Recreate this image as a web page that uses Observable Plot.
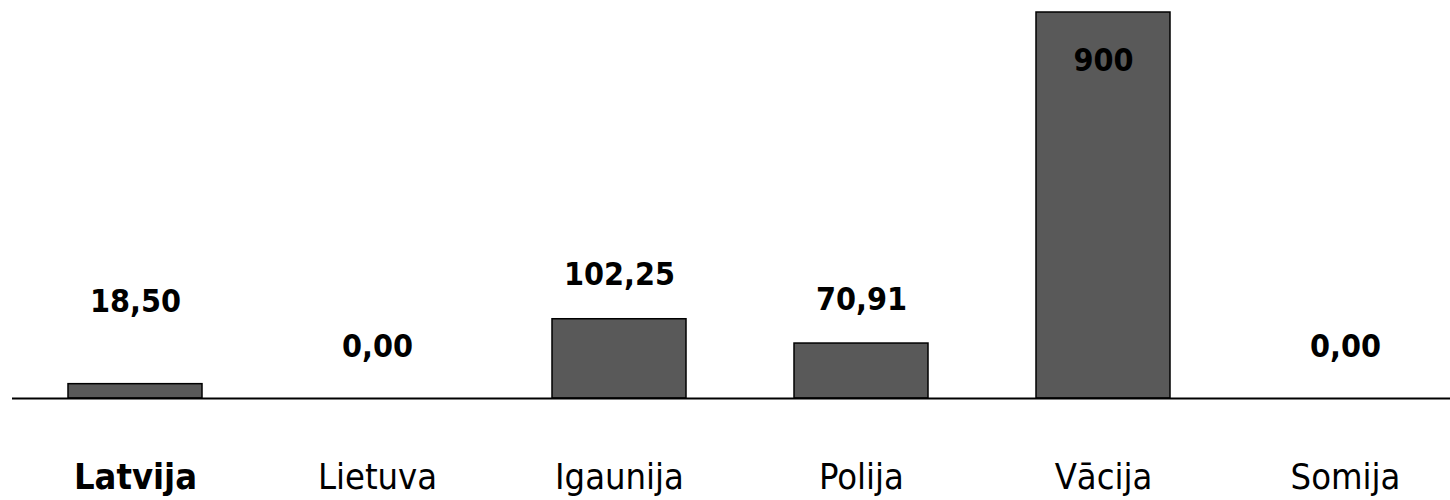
<!DOCTYPE html>
<html>
<head>
<meta charset="utf-8">
<script src="https://cdn.jsdelivr.net/npm/d3@7"></script>
<script src="https://cdn.jsdelivr.net/npm/@observablehq/plot@0.6"></script>
<style>
  html, body { margin: 0; padding: 0; background: #fff; }
  #chart svg { display: block; }
  #chart svg text { font-stretch: condensed; }
</style>
</head>
<body>
<div id="chart"></div>
<script>
const countries = ["Latvija", "Lietuva", "Igaunija", "Polija", "Vācija", "Somija"];
const values = [18.50, 0.00, 102.25, 70.91, 900, 0.00];
const labels = ["18,50", "0,00", "102,25", "70,91", "900", "0,00"];
const highlighted = ["Latvija"];
const axisMax = 498; // visible top of the value axis; taller bars are cut off

const data = countries.map((c, i) => ({country: c, value: values[i], label: labels[i]}));
const font = "'DejaVu Sans Condensed', 'DejaVu Sans', Verdana, sans-serif";

const chart = Plot.plot({
  width: 1450,
  height: 500,
  marginLeft: 12,
  marginRight: 0,
  marginTop: 12,
  marginBottom: 102,
  style: {fontFamily: font, background: "#fff"},
  x: {domain: countries, range: [13, 1467], paddingInner: 0.446, paddingOuter: 0.223, axis: null},
  y: {domain: [0, axisMax], clamp: true, axis: null},
  marks: [
    Plot.barY(data, {x: "country", y: "value", fill: "#595959", stroke: "#000", strokeWidth: 1.5}),
    Plot.ruleY([0], {stroke: "#000", strokeWidth: 2}),
    // value labels above bars
    Plot.text(data.filter(d => d.value > 20 && d.value <= axisMax), {x: "country", y: "value", text: "label", dy: -44, fontSize: 32, fontWeight: "bold", fill: "#000"}),
    Plot.text(data.filter(d => d.value > 0 && d.value <= 20), {x: "country", y: "value", text: "label", dy: -82, fontSize: 32, fontWeight: "bold", fill: "#000"}),
    Plot.text(data.filter(d => d.value === 0), {x: "country", y: "value", text: "label", dy: -52, fontSize: 32, fontWeight: "bold", fill: "#000"}),
    // label inside clipped bar
    Plot.text(data.filter(d => d.value > axisMax), {x: "country", y: "value", text: "label", dy: 48, fontSize: 32, fontWeight: "bold", fill: "#000"}),
    // category labels
    Plot.text(data.filter(d => highlighted.includes(d.country)), {x: "country", frameAnchor: "bottom", text: "country", dy: 90, fontSize: 36, fontWeight: "bold", fill: "#000"}),
    Plot.text(data.filter(d => !highlighted.includes(d.country)), {x: "country", frameAnchor: "bottom", text: "country", dy: 90, fontSize: 36, fill: "#000"})
  ]
});
document.getElementById("chart").appendChild(chart);
</script>
</body>
</html>
